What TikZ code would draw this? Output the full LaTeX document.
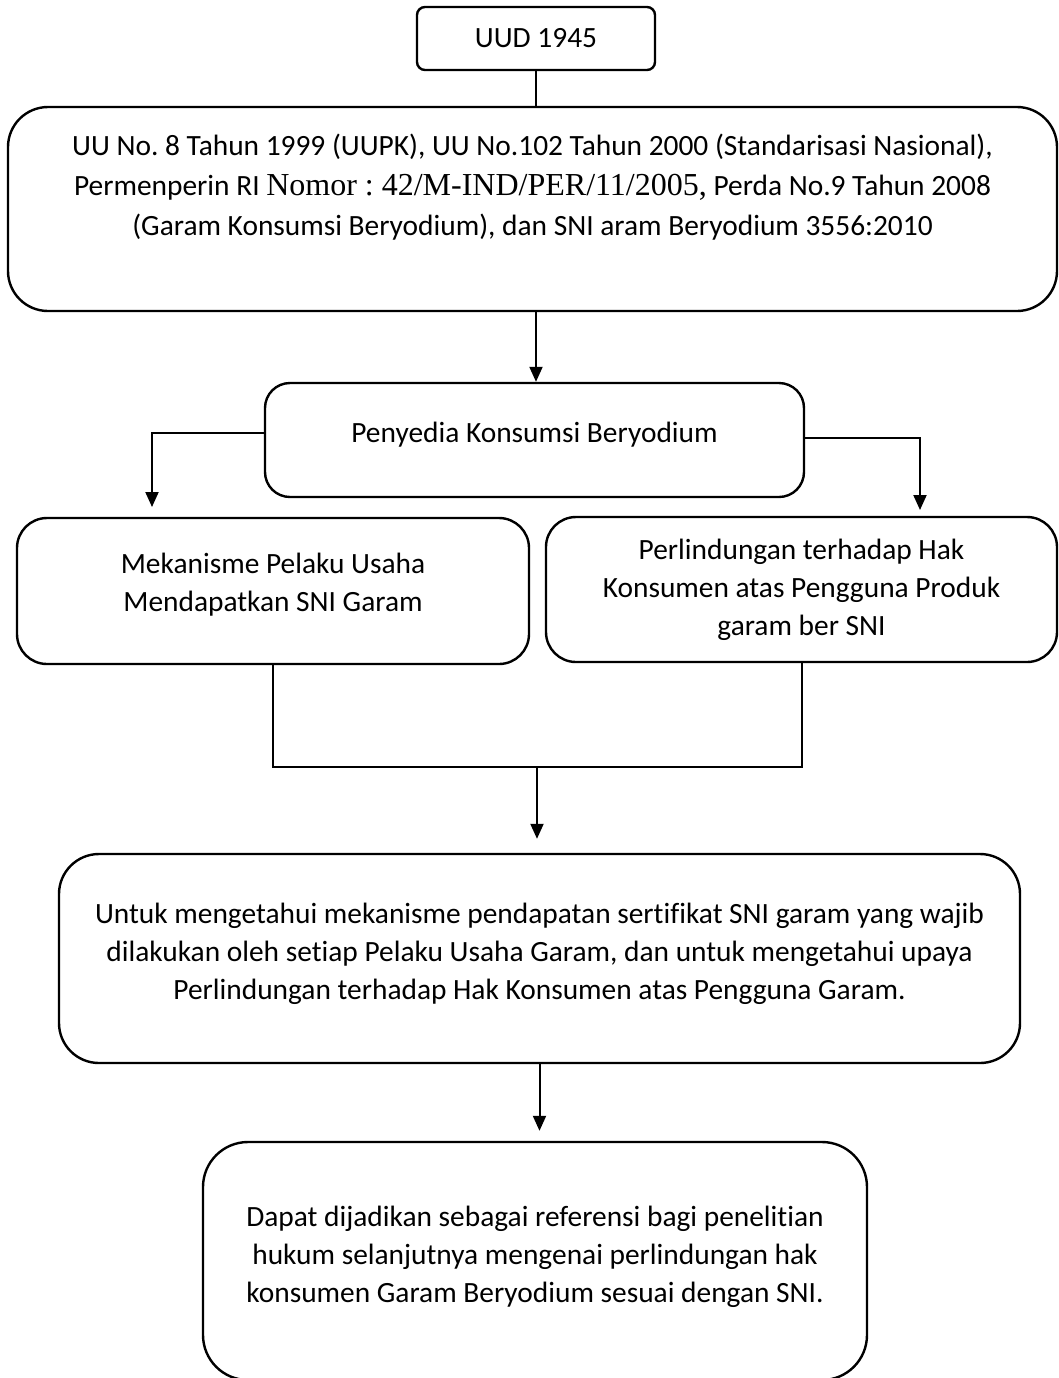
\documentclass[tikz,border=0pt]{standalone}
\usepackage{fontspec}
\setmainfont{Carlito}[Ligatures={NoCommon}]
\newfontfamily\timesfont{Liberation Serif}
\usetikzlibrary{arrows.meta}
\frenchspacing

\tikzset{
  box/.style={draw, line width=1.2pt, rounded corners=#1, align=center,
    inner sep=0pt, font=\fontsize{14.7pt}{19pt}\selectfont},
  box/.default=15pt,
  line/.style={line width=1pt},
  arrow/.style={line width=1pt, -{Triangle[length=7.5pt,width=6.5pt]}}
}

\begin{document}
\begin{tikzpicture}[x=0.5pt, y=-0.5pt]
    \useasboundingbox (0,0) rectangle (1059,1378);

    \node[box=4pt, minimum width=119pt, minimum height=31.5pt] (uud) at (536, 38.5) {UUD 1945};
    \node[box=20pt, minimum width=524.5pt, minimum height=102pt] (law) at (532.5, 209)
        {UU No. 8 Tahun 1999 (UUPK), UU No.102 Tahun 2000 (Standarisasi Nasional),\\[1pt]
         Permenperin RI {\timesfont\fontsize{16pt}{20pt}\selectfont Nomor : 42/M-IND/PER/11/2005,} Perda No.9 Tahun 2008\\[1pt]
         (Garam Konsumsi Beryodium), dan SNI aram Beryodium 3556:2010\\ \strut};
    \node[box=12.5pt, minimum width=269.5pt, minimum height=57pt] (pen) at (534.5, 440)
        {Penyedia Konsumsi Beryodium\rule[-8pt]{0pt}{0pt}};
    \node[box, minimum width=256pt, minimum height=73pt] (mek) at (273, 591)
        {Mekanisme Pelaku Usaha\\ Mendapatkan SNI Garam\rule[-9pt]{0pt}{0pt}};
    \node[box, minimum width=255.5pt, minimum height=72.5pt] (perl) at (801.5, 589.5)
        {Perlindungan terhadap Hak\\ Konsumen atas Pengguna Produk\\ garam ber SNI};
    \node[box=20pt, minimum width=480.5pt, minimum height=104.5pt] (tuj) at (539.5, 958.5)
        {Untuk mengetahui mekanisme pendapatan sertifikat SNI garam yang wajib\\
         dilakukan oleh setiap Pelaku Usaha Garam, dan untuk mengetahui upaya\\
         Perlindungan terhadap Hak Konsumen atas Pengguna Garam.\rule[-7pt]{0pt}{0pt}};
    \node[box=22.5pt, minimum width=332pt, minimum height=119pt] (man) at (535, 1261)
        {Dapat dijadikan sebagai referensi bagi penelitian\\
         hukum selanjutnya mengenai perlindungan hak\\
         konsumen Garam Beryodium sesuai dengan SNI.\rule[-7pt]{0pt}{0pt}};

    \coordinate (lk) at (152, 507);
    \coordinate (rk) at (920, 510);
    \coordinate (jn) at (537, 767);

    \draw[line] (uud) -- (uud |- law.north);
    \draw[arrow] (law.south -| uud) -- (uud |- pen.north);
    \draw[arrow] ([yshift=3.5pt]pen.west) -| (lk);
    \draw[arrow] ([yshift=1pt]pen.east) -| (rk);
    \draw[line] (mek.south) |- (jn) -| (perl.south);
    \draw[arrow, shorten >=7pt] (jn) -- (jn |- tuj.north);
    \draw[arrow, shorten >=5pt] (tuj.south) -- (tuj.south |- man.north);
\end{tikzpicture}
\end{document}
